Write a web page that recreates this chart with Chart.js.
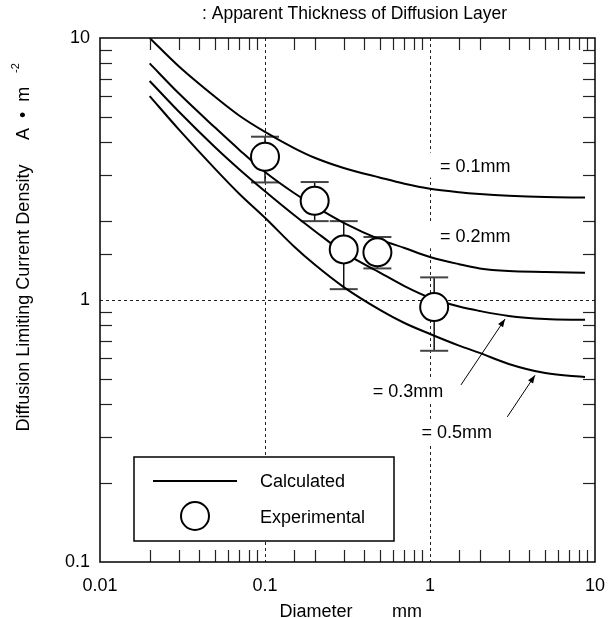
<!DOCTYPE html>
<html>
<head>
<meta charset="utf-8">
<title>Diffusion Limiting Current Density</title>
<script src="https://cdn.jsdelivr.net/npm/chart.js@4.4.1/dist/chart.umd.min.js"></script>
<style>
  html, body { margin: 0; padding: 0; background: #fff; }
</style>
</head>
<body>
<canvas id="chart" width="614" height="618"></canvas>
<script>
// diameters (mm) where the calculated curves are tabulated
var diameters = [0.02, 0.03, 0.05, 0.07, 0.1, 0.15, 0.2, 0.3, 0.5, 0.7, 1, 1.5, 2, 3, 5, 8.7];
// calculated current density (A m-2), one array per diffusion layer thickness
var calc01 = [10, 7.8, 5.95, 5.05, 4.38, 3.8, 3.49, 3.19, 2.93, 2.78, 2.66, 2.58, 2.54, 2.5, 2.47, 2.46];
var calc02 = [8.0, 6.15, 4.54, 3.74, 3.08, 2.56, 2.28, 1.97, 1.70, 1.58, 1.46, 1.37, 1.32, 1.29, 1.28, 1.27];
var calc03 = [6.85, 5.24, 3.82, 3.15, 2.6, 2.11, 1.835, 1.52, 1.27, 1.13, 1.02, 0.944, 0.908, 0.869, 0.846, 0.84];
var calc05 = [6.0, 4.48, 3.16, 2.54, 2.06, 1.60, 1.365, 1.12, 0.915, 0.817, 0.742, 0.67, 0.628, 0.57, 0.526, 0.508];

// experimental points and their error range
var expDiam = [0.1, 0.2, 0.3, 0.48, 1.06];
var expMean = [3.52, 2.39, 1.56, 1.52, 0.94];
var expHigh = [4.2, 2.82, 2.0, 1.74, 1.22];
var expLow = [2.81, 2.0, 1.1, 1.32, 0.64];

var curveLabels = ['= 0.1mm', '= 0.2mm', '= 0.3mm', '= 0.5mm'];
var gridX = [0.1, 1];
var gridY = [1];

// where the thickness labels and arrows sit, in axis units
var labelAt = [[1.15, 3.23], [1.15, 1.735], [0.45, 0.447], [0.889, 0.311]];
var arrows = [
  { from: [1.54, 0.474], to: [2.85, 0.846] },
  { from: [2.94, 0.358], to: [4.33, 0.516] }
];

var FONT = "'Liberation Sans', Arial, Helvetica, sans-serif";
var TICK = 12;

function pts(ys) {
  return diameters.map(function (d, i) { return { x: d, y: ys[i] }; });
}

function isDecade(v) {
  var e = Math.log10(v);
  return Math.abs(e - Math.round(e)) < 1e-6;
}

function seg(ctx, x1, y1, x2, y2) {
  ctx.beginPath();
  ctx.moveTo(x1, y1);
  ctx.lineTo(x2, y2);
  ctx.stroke();
}

var extras = {
  id: 'extras',
  beforeDatasetsDraw: function (chart) {
    var ctx = chart.ctx, a = chart.chartArea;
    var xs = chart.scales.x, ys = chart.scales.y;
    ctx.save();

    // dotted reference lines
    ctx.strokeStyle = '#222';
    ctx.lineWidth = 1;
    ctx.setLineDash([3, 3]);
    gridX.forEach(function (v) {
      var px = Math.round(xs.getPixelForValue(v)) + 0.5;
      seg(ctx, px, a.top, px, a.bottom);
    });
    gridY.forEach(function (v) {
      var py = Math.round(ys.getPixelForValue(v)) + 0.5;
      seg(ctx, a.left, py, a.right, py);
    });
    ctx.setLineDash([]);

    // thickness labels on a white patch
    ctx.font = '18px ' + FONT;
    ctx.textBaseline = 'middle';
    ctx.textAlign = 'left';
    curveLabels.forEach(function (txt, i) {
      var px = xs.getPixelForValue(labelAt[i][0]);
      var py = ys.getPixelForValue(labelAt[i][1]);
      var w = ctx.measureText(txt).width;
      ctx.fillStyle = '#fff';
      ctx.fillRect(px - 16, py - 14, w + 22, 25);
      ctx.fillStyle = '#000';
      ctx.fillText(txt, px, py);
    });

    // error bars
    expDiam.forEach(function (d, i) {
      var px = xs.getPixelForValue(d);
      var hi = ys.getPixelForValue(expHigh[i]);
      var lo = ys.getPixelForValue(expLow[i]);
      ctx.strokeStyle = '#111';
      ctx.lineWidth = 1.5;
      seg(ctx, px, hi, px, lo);
      ctx.strokeStyle = '#444';
      ctx.lineWidth = 2;
      seg(ctx, px - 14, hi, px + 14, hi);
      seg(ctx, px - 14, lo, px + 14, lo);
    });
    ctx.restore();
  },
  afterDatasetsDraw: function (chart) {
    var ctx = chart.ctx, a = chart.chartArea;
    var xs = chart.scales.x, ys = chart.scales.y;
    ctx.save();

    // inward minor ticks on all four sides
    ctx.strokeStyle = '#222';
    ctx.lineWidth = 1.2;
    xs.ticks.forEach(function (t) {
      if (isDecade(t.value)) return;
      var px = Math.round(xs.getPixelForValue(t.value)) + 0.5;
      seg(ctx, px, a.top, px, a.top + TICK);
      seg(ctx, px, a.bottom, px, a.bottom - TICK);
    });
    ys.ticks.forEach(function (t) {
      if (isDecade(t.value)) return;
      var py = Math.round(ys.getPixelForValue(t.value)) + 0.5;
      seg(ctx, a.left, py, a.left + TICK, py);
      seg(ctx, a.right, py, a.right - TICK, py);
    });

    // frame
    ctx.strokeStyle = '#000';
    ctx.lineWidth = 1.5;
    ctx.strokeRect(a.left, a.top, a.right - a.left, a.bottom - a.top);

    // arrows pointing at the 0.3 and 0.5 curves
    ctx.lineWidth = 1;
    ctx.fillStyle = '#000';
    arrows.forEach(function (ar) {
      var x1 = xs.getPixelForValue(ar.from[0]), y1 = ys.getPixelForValue(ar.from[1]);
      var x2 = xs.getPixelForValue(ar.to[0]), y2 = ys.getPixelForValue(ar.to[1]);
      seg(ctx, x1, y1, x2, y2);
      var ang = Math.atan2(y2 - y1, x2 - x1);
      ctx.beginPath();
      ctx.moveTo(x2, y2);
      ctx.lineTo(x2 - 8 * Math.cos(ang) + 3 * Math.sin(ang), y2 - 8 * Math.sin(ang) - 3 * Math.cos(ang));
      ctx.lineTo(x2 - 8 * Math.cos(ang) - 3 * Math.sin(ang), y2 - 8 * Math.sin(ang) + 3 * Math.cos(ang));
      ctx.closePath();
      ctx.fill();
    });

    // legend box
    ctx.fillStyle = '#fff';
    ctx.fillRect(134, 457, 260, 84);
    ctx.lineWidth = 1.5;
    ctx.strokeRect(134, 457, 260, 84);
    ctx.lineWidth = 2;
    seg(ctx, 153, 481, 237, 481);
    ctx.beginPath();
    ctx.arc(195, 516, 14, 0, Math.PI * 2);
    ctx.stroke();
    ctx.fillStyle = '#000';
    ctx.font = '18px ' + FONT;
    ctx.textAlign = 'left';
    ctx.textBaseline = 'middle';
    ctx.fillText('Calculated', 260, 482);
    ctx.fillText('Experimental', 260, 518);

    // title
    ctx.font = '17.5px ' + FONT;
    ctx.fillText(': Apparent Thickness of Diffusion Layer', 202, 14);

    // x axis title
    ctx.font = '18px ' + FONT;
    ctx.textAlign = 'center';
    ctx.fillText('Diameter', 316, 612);
    ctx.fillText('mm', 407, 612);

    // y axis title
    ctx.save();
    ctx.translate(24, 298);
    ctx.rotate(-Math.PI / 2);
    ctx.fillText('Diffusion Limiting Current Density', 0, 0);
    ctx.restore();
    ctx.save();
    ctx.translate(24, 140);
    ctx.rotate(-Math.PI / 2);
    ctx.textAlign = 'left';
    ctx.fillText('A  \u2022  m', 0, 0);
    ctx.font = '11px ' + FONT;
    ctx.fillText('-2', 67, -8);
    ctx.restore();

    ctx.restore();
  }
};

var tickFont = { family: FONT, size: 18 };

new Chart(document.getElementById('chart'), {
  type: 'line',
  data: {
    datasets: [
      {
        label: 'Experimental',
        type: 'scatter',
        data: expDiam.map(function (d, i) { return { x: d, y: expMean[i] }; }),
        pointRadius: 14,
        pointBorderWidth: 2,
        pointBackgroundColor: '#fff',
        pointBorderColor: '#000',
        showLine: false,
        order: 0
      },
      { label: '0.1mm', data: pts(calc01), order: 1 },
      { label: '0.2mm', data: pts(calc02), order: 1 },
      { label: '0.3mm', data: pts(calc03), order: 1 },
      { label: '0.5mm', data: pts(calc05), order: 1 }
    ]
  },
  options: {
    responsive: false,
    animation: false,
    events: [],
    layout: { padding: { top: 38, right: 19, left: 0, bottom: 0 } },
    elements: {
      line: { borderColor: '#000', borderWidth: 2, cubicInterpolationMode: 'monotone', fill: false },
      point: { radius: 0 }
    },
    plugins: { legend: { display: false }, tooltip: { enabled: false } },
    scales: {
      x: {
        type: 'logarithmic',
        min: 0.01,
        max: 10,
        grid: { display: false, drawTicks: false },
        border: { display: false },
        ticks: {
          autoSkip: false,
          maxRotation: 0,
          padding: 13,
          color: '#000',
          font: tickFont,
          callback: function (v) { return isDecade(v) ? String(Number(v.toPrecision(3))) : ''; }
        },
        afterFit: function (s) {
          s.height = 56;
          s.paddingLeft = 0;
          s.paddingRight = 0;
        }
      },
      y: {
        type: 'logarithmic',
        min: 0.1,
        max: 10,
        grid: { display: false, drawTicks: false },
        border: { display: false },
        ticks: {
          autoSkip: false,
          padding: 10,
          color: '#000',
          font: tickFont,
          callback: function (v) { return isDecade(v) ? String(Number(v.toPrecision(3))) : ''; }
        },
        afterFit: function (s) {
          s.width = 100;
          s.paddingTop = 0;
          s.paddingBottom = 0;
        }
      }
    }
  },
  plugins: [extras]
});
</script>
</body>
</html>
